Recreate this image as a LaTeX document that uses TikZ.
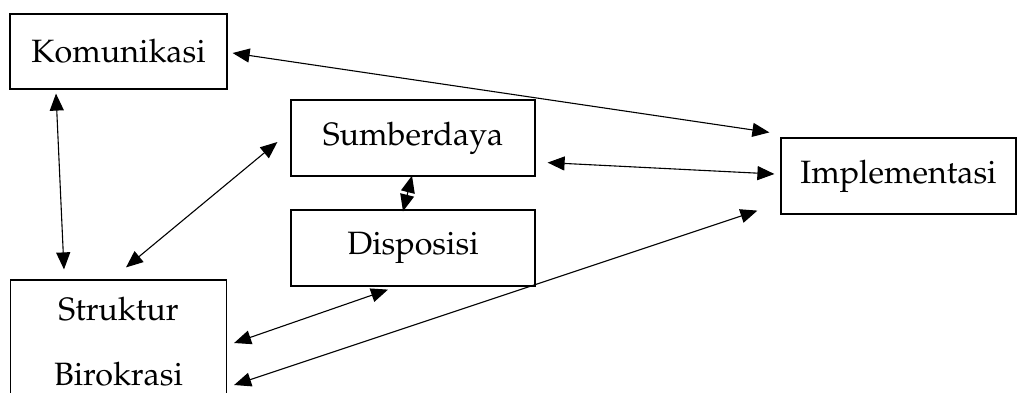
\documentclass[tikz,border=0pt]{standalone}
\usepackage[T1]{fontenc}
\usepackage{mathpazo}
\usepackage{tikz}
\usetikzlibrary{arrows.meta}

\begin{document}
\begin{tikzpicture}[x=1pt,y=-1pt,
		box/.style={draw, line width=1.2pt, inner sep=0, align=center,
			font=\fontsize{32.3}{65}\selectfont},
		link/.style={line width=1.1pt, {Triangle[length=17pt,width=14pt]}-{Triangle[length=17pt,width=14pt]}}]
	\clip (0,0) rectangle (1017,392);
	% boxes
	\node[box, minimum width=217, minimum height=75] (kom) at (118.5,51.5) {Komunikasi};
	\node[box, minimum width=244, minimum height=76] (sum) at (413,138) {Sumberdaya};
	\node[box, minimum width=244, minimum height=76] (dis) at (413,248) {Disposisi};
	\node[box, minimum width=235, minimum height=76] (imp) at (898.5,176) {Implementasi};
	\node[box, minimum width=216, minimum height=124] (str) at (118.5,342) {Struktur\\Birokrasi};
	% links
	\draw[link] ([shift={(5,1.5)}]kom.east) -- ([shift={(-11,-5)}]imp.north west);
	\draw[link] ([shift={(-62.5,4)}]kom.south) -- ([shift={(-54.5,-10)}]str.north);
	\draw[link] ([shift={(-13,4)}]sum.west) -- ([shift={(7.5,-12)}]str.north);
	\draw[link] ([shift={(12,-14)}]sum.south east) -- ([shift={(-6,-2)}]imp.west);
	\draw[link] ([shift={(-1,-1)}]sum.south) -- ([shift={(-10,2)}]dis.north);
	\draw[link] ([shift={(-25,3)}]dis.south) -- ([shift={(7,1)}]str.east);
	\draw[link] ([shift={(-23,-4)}]imp.south west) -- ([shift={(7,43)}]str.east);
\end{tikzpicture}
\end{document}
